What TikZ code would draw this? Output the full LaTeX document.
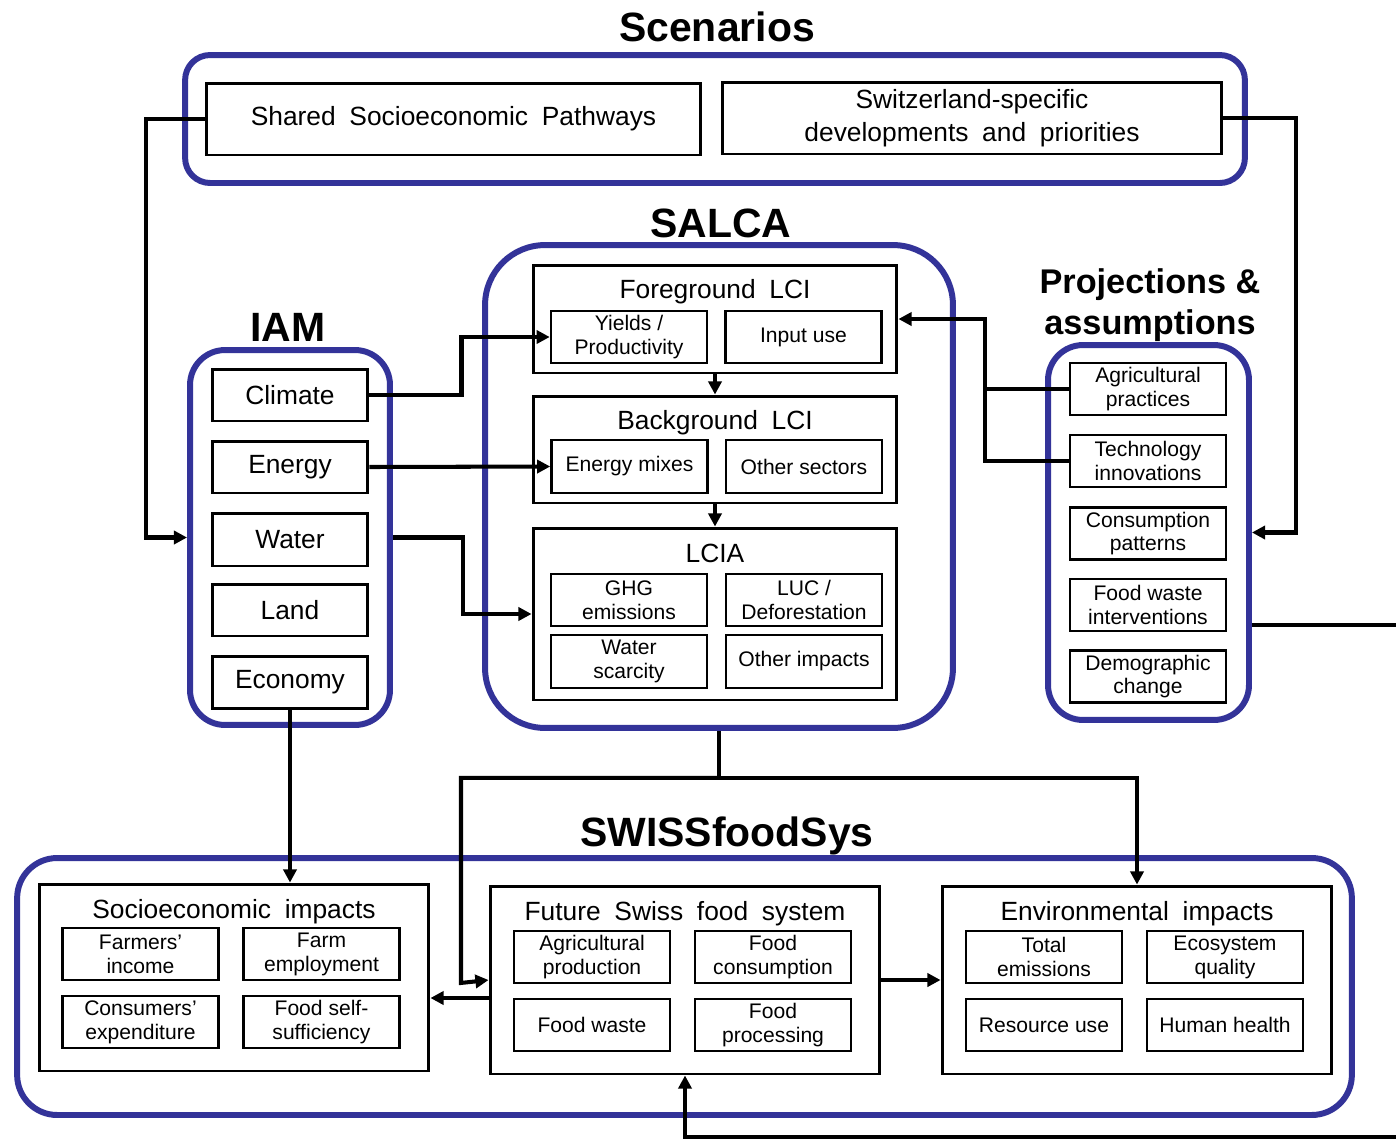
\documentclass[tikz,border=0pt]{standalone}
\usepackage{fontspec}
\setmainfont{Liberation Sans}
\usetikzlibrary{arrows.meta}

\definecolor{frameblue}{RGB}{51,51,153}
\newcommand\widespaces{\spaceskip0.52em\relax}

\begin{document}
\begin{tikzpicture}[x=0.02cm,y=-0.02cm,
    model frame/.style={draw=frameblue,line width=3.4pt,rounded corners=#1},
    model frame/.default=6mm,
    title/.style={font=\fontsize{23.3}{28}\selectfont\bfseries,anchor=base},
    panel/.style={draw,line width=1.7pt,minimum width=7.28cm},
    panel title/.style={font=\fontsize{15}{18}\selectfont\widespaces,anchor=base},
    bigbox/.style={draw,line width=1.7pt,inner sep=0pt,align=center,font=\fontsize{15}{18.7}\selectfont\widespaces},
    item/.style={draw,line width=1.5pt,inner sep=0pt,minimum width=3.12cm,minimum height=1.04cm,align=center,font=\fontsize{12}{13.6}\selectfont},
    flow/.style={line width=2.3pt},
    flow arrow/.style={flow,-{Triangle[length=7.5pt,width=7.5pt]}},
  ]
  \useasboundingbox[fill=white] (0,0) rectangle (1396,1140);

  % Scenarios
  \node[title] (scen-title) at (717,41) {Scenarios};
  \node[model frame=5mm,minimum width=21.2cm,minimum height=2.56cm] (scen) at (715,119) {};
  \node[bigbox,minimum width=9.9cm,minimum height=1.44cm] (ssp) at (453.5,119) {Shared Socioeconomic Pathways};
  \node[bigbox,minimum width=10cm,minimum height=1.44cm] (swiss) at (972,118) {Switzerland-specific\\developments and priorities};

  % SALCA
  \node[title] (salca-title) at (721,237) {SALCA};
  \node[model frame=12mm,minimum width=9.36cm,minimum height=9.66cm] (salca) at (719,486.5) {};
  \node[panel,minimum height=2.16cm] (fg) at (715,319) {};
  \node[panel title] (fg-title) at (715,298) {Foreground LCI};
  \node[item] (yields) at (629,337) {Yields /\\Productivity};
  \node[item] (input) at (803.5,337) {Input use};
  \node[panel,minimum height=2.14cm] (bg) at (715,449.5) {};
  \node[panel title] (bg-title) at (715,429) {Background LCI};
  \node[item,minimum height=1.06cm] (mixes) at (629.5,466.5) {Energy mixes};
  \node[item,minimum height=1.06cm] (sectors) at (804,466.5) {Other sectors};
  \node[panel,minimum height=3.44cm] (lcia) at (715,614) {};
  \node[panel title] (lcia-title) at (715,562) {LCIA};
  \node[item] (ghg) at (629,600) {GHG\\emissions};
  \node[item] (luc) at (804,600) {LUC /\\Deforestation};
  \node[item,minimum height=1.06cm] (scarcity) at (629,661.5) {Water\\scarcity};
  \node[item,minimum height=1.06cm] (impacts) at (804,661.5) {Other impacts};

  % IAM
  \node[title] (iam-title) at (288,341) {IAM};
  \node[model frame=7mm,minimum width=4cm,minimum height=7.5cm] (iam) at (290,537.5) {};
  \node[bigbox,minimum width=3.12cm,minimum height=1.04cm] (climate) at (290,395) {Climate};
  \node[bigbox,minimum width=3.12cm,minimum height=1.04cm] (energy) at (290,467) {Energy};
  \node[bigbox,minimum width=3.12cm,minimum height=1.06cm] (water) at (290,539.5) {Water};
  \node[bigbox,minimum width=3.12cm,minimum height=1.04cm] (land) at (290,610) {Land};
  \node[bigbox,minimum width=3.12cm,minimum height=1.04cm] (economy) at (290,682) {Economy};

  % Projections & assumptions
  \node[font=\fontsize{19.5}{23.2}\selectfont\bfseries,align=center] (proj-title) at (1150,305) {Projections \&\\assumptions};
  \node[model frame=7mm,minimum width=4.02cm,minimum height=7.5cm] (proj) at (1148.5,532.5) {};
  \node[item] (agri) at (1148,389) {Agricultural\\practices};
  \node[item] (tech) at (1148,461) {Technology\\innovations};
  \node[item] (cons) at (1148,533.5) {Consumption\\patterns};
  \node[item] (waste) at (1148,605) {Food waste\\interventions};
  \node[item] (demo) at (1148,676.5) {Demographic\\change};

  % SWISSfoodSys
  \node[title] (sfs-title) at (727,846) {SWISSfoodSys};
  \node[model frame=8mm,minimum width=26.7cm,minimum height=5.14cm] (sfs) at (684.5,986.5) {};
  \node[panel,minimum width=7.8cm,minimum height=3.74cm] (socio) at (234,977.5) {};
  \node[panel title] (socio-title) at (234,918) {Socioeconomic impacts};
  \node[item] (farmers) at (140.5,954) {Farmers'\\income};
  \node[item] (employ) at (321.5,954) {Farm\\employment};
  \node[item] (spend) at (140.5,1022) {Consumers'\\expenditure};
  \node[item] (selfsuff) at (321.5,1022) {Food self-\\sufficiency};
  \node[panel,minimum width=7.8cm,minimum height=3.76cm] (future) at (685,980) {};
  \node[panel title] (future-title) at (685,920) {Future Swiss food system};
  \node[item] (agprod) at (592,957) {Agricultural\\production};
  \node[item] (foodcons) at (773,957) {Food\\consumption};
  \node[item] (foodwaste) at (592,1025) {Food waste};
  \node[item] (processing) at (773,1025) {Food\\processing};
  \node[panel,minimum width=7.8cm,minimum height=3.76cm] (env) at (1137,980) {};
  \node[panel title] (env-title) at (1137,920) {Environmental impacts};
  \node[item] (emissions) at (1044,957) {Total\\emissions};
  \node[item] (ecosystem) at (1225,957) {Ecosystem\\quality};
  \node[item] (resource) at (1044,1025) {Resource use};
  \node[item] (health) at (1225,1025) {Human health};

  % flows
  \draw[flow arrow] (ssp.west) -- ++(-59,0) |- (iam.west);
  \draw[flow arrow] (swiss.east) -- ++(73,0) |- (proj.east);
  \draw[flow arrow] (climate.east) -- ++(92,0) |- (yields.west);
  \draw[flow arrow] (energy.east) -- (mixes.west);
  \draw[flow arrow] (iam.east) -- ++(70,0) |- (lcia.west);
  \draw[flow] (agri.west) -- ++(-84,0);
  \draw[flow arrow] (tech.west) -- ++(-84,0) |- (fg.east);
  \draw[flow arrow] (fg.south) -- (bg.north);
  \draw[flow arrow] (bg.south) -- (lcia.north);
  \draw[flow] (salca.south) -- ++(0,47) coordinate (split);
  \draw[flow arrow] (split) -| ++(-258,205) -- (future.west);
  \draw[flow arrow] (split) -| (env.north);
  \draw[flow arrow] (economy.south) -- (economy.south |- socio.north);
  \path ([yshift=-3.6mm]future.west) coordinate (fw);
  \draw[flow arrow] (fw) -- (fw -| socio.east);
  \draw[flow arrow] (future.east) -- (env.west);
  \coordinate (edge-a) at (1396,625);
  \coordinate (edge-b) at (1396,1137);
  \draw[flow] (edge-a -| proj.east) -- (edge-a);
  \draw[flow arrow] (edge-b) -| (future.south);
\end{tikzpicture}
\end{document}
